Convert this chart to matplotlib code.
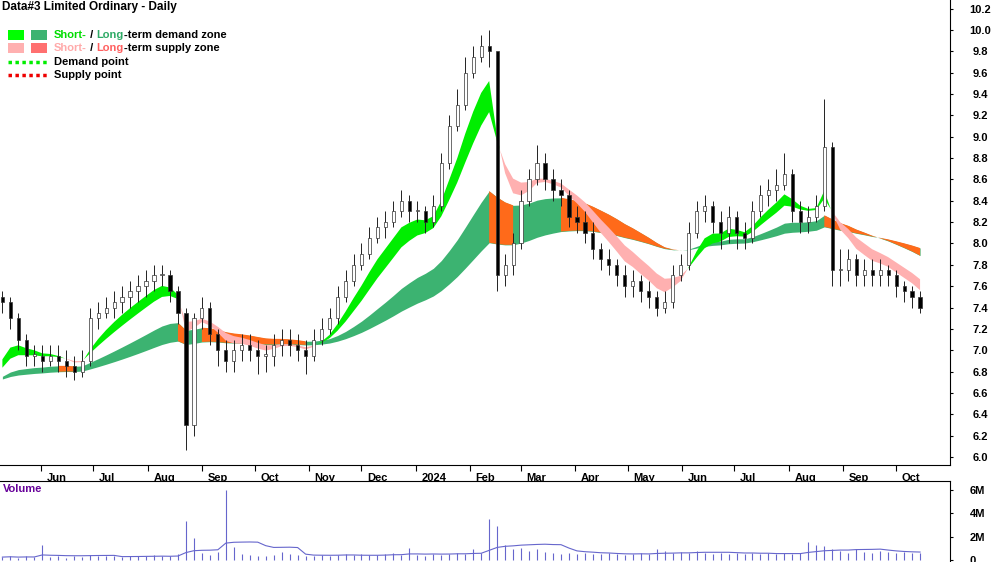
import numpy as np
import pandas as pd
import matplotlib
matplotlib.use("Agg")
import matplotlib.pyplot as plt
import matplotlib.transforms as mt
from matplotlib.patches import Rectangle

plt.rcParams["font.family"] = ["Liberation Sans", "DejaVu Sans"]

closes = [7.45, 7.3, 7.1, 6.95, 6.95, 6.9, 6.95, 6.9, 6.85, 6.8, 6.9, 7.3, 7.35, 7.4, 7.45, 7.5,
          7.55, 7.6, 7.65, 7.7, 7.7, 7.55, 7.35, 6.3, 7.3, 7.4, 7.15, 7.0, 6.9, 7.0, 7.05, 7.0,
          6.95, 6.95, 7.05, 7.1, 7.05, 7.0, 6.95, 7.1, 7.2, 7.3, 7.5, 7.65, 7.8, 7.9, 8.05, 8.15,
          8.2, 8.3, 8.4, 8.3, 8.3, 8.2, 8.35, 8.75, 9.1, 9.3, 9.6, 9.75, 9.85, 9.8, 7.7, 7.8,
          8.0, 8.4, 8.6, 8.75, 8.6, 8.5, 8.45, 8.25, 8.2, 8.1, 7.95, 7.85, 7.8, 7.7, 7.6, 7.65,
          7.55, 7.5, 7.4, 7.45, 7.7, 7.8, 8.1, 8.3, 8.35, 8.2, 8.1, 8.25, 8.1, 8.05, 8.3, 8.45,
          8.5, 8.55, 8.65, 8.3, 8.2, 8.25, 8.35, 8.9, 7.75, 7.75, 7.85, 7.7, 7.75, 7.7, 7.75, 7.7,
          7.6, 7.55, 7.5, 7.4]
highs = [7.55, 7.5, 7.35, 7.15, 7.05, 7.05, 7.05, 7.05, 7.0, 6.95, 7.0, 7.4, 7.45, 7.5, 7.55, 7.6,
         7.65, 7.7, 7.75, 7.8, 7.8, 7.75, 7.6, 7.4, 7.35, 7.5, 7.45, 7.2, 7.1, 7.1, 7.15, 7.15,
         7.1, 7.05, 7.15, 7.2, 7.2, 7.15, 7.1, 7.2, 7.3, 7.4, 7.6, 7.75, 7.9, 8.0, 8.15, 8.25,
         8.3, 8.4, 8.5, 8.45, 8.4, 8.35, 8.45, 8.85, 9.2, 9.45, 9.75, 9.85, 9.95, 10.0, 9.65, 7.9,
         8.1, 8.5, 8.7, 8.92, 8.85, 8.7, 8.6, 8.5, 8.35, 8.3, 8.2, 8.0, 7.95, 7.85, 7.8, 7.75,
         7.7, 7.65, 7.55, 7.55, 7.8, 7.9, 8.2, 8.4, 8.45, 8.4, 8.3, 8.35, 8.3, 8.2, 8.4, 8.55,
         8.6, 8.7, 8.85, 8.7, 8.4, 8.35, 8.45, 9.35, 8.95, 7.95, 7.95, 7.9, 7.85, 7.85, 7.85, 7.8,
         7.75, 7.65, 7.6, 7.55]
lows = [7.35, 7.2, 7.0, 6.85, 6.85, 6.8, 6.85, 6.8, 6.75, 6.72, 6.75, 6.85, 7.2, 7.3, 7.3, 7.35,
        7.4, 7.45, 7.5, 7.55, 7.6, 7.45, 7.25, 6.07, 6.2, 7.2, 7.05, 6.85, 6.8, 6.8, 6.9, 6.9,
        6.78, 6.8, 6.85, 6.95, 6.95, 6.9, 6.78, 6.9, 7.05, 7.15, 7.25, 7.45, 7.6, 7.75, 7.85, 8.0,
        8.05, 8.15, 8.25, 8.2, 8.2, 8.1, 8.15, 8.3, 8.7, 9.05, 9.25, 9.55, 9.7, 9.65, 7.55, 7.6,
        7.7, 7.95, 8.35, 8.55, 8.5, 8.4, 8.35, 8.15, 8.1, 8.0, 7.85, 7.75, 7.7, 7.6, 7.5, 7.5,
        7.45, 7.4, 7.32, 7.35, 7.4, 7.65, 7.75, 8.05, 8.2, 8.1, 7.95, 8.0, 7.95, 7.95, 8.0, 8.25,
        8.35, 8.4, 8.5, 8.2, 8.1, 8.1, 8.2, 8.3, 7.6, 7.6, 7.65, 7.6, 7.6, 7.6, 7.6, 7.6,
        7.5, 7.45, 7.4, 7.35]
volumes = [0.25, 0.3, 0.2, 0.3, 0.25, 1.3, 0.25, 0.3, 0.2, 0.3, 0.25, 0.4, 0.3, 0.35, 0.3, 0.25,
           0.3, 0.35, 0.3, 0.4, 0.35, 0.3, 0.5, 3.3, 1.9, 0.6, 0.4, 0.7, 6.0, 1.1, 0.5, 0.4,
           0.35, 0.3, 0.4, 0.7, 0.5, 0.4, 0.35, 0.3, 0.4, 0.35, 0.4, 0.5, 0.4, 0.5, 0.45, 0.4,
           0.5, 0.6, 0.45, 1.0, 0.4, 0.35, 0.5, 0.4, 0.5, 0.6, 0.5, 0.9, 0.6, 3.5, 2.9, 1.3,
           0.9, 1.0, 0.8, 0.9, 0.7, 0.6, 0.5, 0.6, 0.5, 0.6, 0.5, 0.5, 0.6, 0.5, 0.4, 0.5,
           0.6, 0.5, 0.9, 0.8, 0.6, 0.7, 0.6, 0.8, 0.6, 0.5, 0.6, 0.5, 0.6, 0.5, 0.6, 0.5,
           0.6, 0.5, 0.6, 0.5, 0.6, 1.5, 1.3, 1.2, 0.9, 0.8, 0.6, 0.9, 0.7, 0.6, 0.8, 0.7,
           0.6, 0.7, 0.6, 0.6]
prior_level = [6.7] * 40  # level before the chart window, seeds the averages
start_date, end_date = "2023-05-10", "2024-10-15"
price_ticks = np.round(np.arange(6.0, 10.21, 0.2), 1)
vol_ticks = [0, 2, 4, 6]
vol_labels = ["0", "2M", "4M", "6M"]

c = np.array(closes)
o = np.r_[7.5, c[:-1]]
n = len(c)
x = np.arange(n)
dates = pd.date_range(start_date, end_date, periods=n)

k = len(prior_level)
s = pd.Series(np.r_[prior_level, c])
st_fast = s.ewm(span=6, adjust=False).mean().values[k:]
st_slow = s.ewm(span=10, adjust=False).mean().values[k:]
lt_fast = s.ewm(span=26, adjust=False).mean().values[k:]
lt_slow = s.ewm(span=48, adjust=False).mean().values[k:]

fig = plt.figure(figsize=(10, 5.62), dpi=100)
ax = fig.add_axes([0, 1 - 465 / 562, 0.95, 465 / 562])
axv = fig.add_axes([0, 0, 0.95, 81 / 562])

# long-term band: green while rising, orange while falling
down = np.r_[False, np.diff(lt_fast) < 0]
down_ext = down | np.r_[down[1:], False]
ax.fill_between(x, lt_fast, lt_slow, color="#3cb371", lw=0)
ax.fill_between(x, lt_fast, lt_slow, where=down_ext, color="#ff6a1a", lw=0)
# short-term band
up = st_fast >= st_slow
ax.fill_between(x, st_fast, st_slow, where=up, color="#00ee00", interpolate=True, lw=0)
ax.fill_between(x, st_fast, st_slow, where=~up, color="#ffb0b0", interpolate=True, lw=0)

# candles
for i in range(n):
    ax.vlines(x[i], lows[i], highs[i], color="#222222", lw=0.7, zorder=3)
    bot, h = min(o[i], c[i]), max(abs(c[i] - o[i]), 0.01)
    fc = "white" if c[i] >= o[i] else "black"
    ax.add_patch(Rectangle((x[i] - 0.2, bot), 0.4, h, facecolor=fc,
                           edgecolor="#333333", lw=0.5, zorder=4))

ax.set_xlim(-0.3, 118.75)
ax.set_ylim(5.925, 10.28)
ax.yaxis.tick_right()
ax.set_yticks(price_ticks)
ax.set_yticklabels([f"{v:.1f}" for v in price_ticks], fontsize=8, fontweight="bold")
for sp in ["left", "top"]:
    ax.spines[sp].set_visible(False)

# month ticks
months = pd.date_range("2023-06-01", "2024-10-01", freq="MS")
mpos = np.interp(months.astype("int64"), dates.astype("int64"), x)
mlab = ["2024" if m.month == 1 else m.strftime("%b") for m in months]
ax.set_xticks(mpos)
ax.set_xticklabels(mlab, fontsize=8, fontweight="bold", ha="left")
ax.tick_params(axis="x", length=4, pad=2)
ax.tick_params(axis="y", length=2, pad=20)
for lab in ax.get_yticklabels():
    lab.set_horizontalalignment("center")
off = mt.ScaledTranslation(4 / 72, 0, fig.dpi_scale_trans)
for lab in ax.get_xticklabels():
    lab.set_transform(lab.get_transform() + off)

# volume
vs = pd.Series(volumes)
axv.vlines(x, 0, vs, color="#6666cc", lw=0.8)
axv.plot(x, vs.rolling(10, min_periods=1).mean(), color="#6666cc", lw=0.8)
axv.set_xlim(-0.3, 118.75)
axv.set_ylim(-0.17, 6.75)
axv.yaxis.tick_right()
axv.set_yticks(vol_ticks)
axv.set_yticklabels(vol_labels, fontsize=8, fontweight="bold")
axv.tick_params(axis="y", length=2, pad=12)
axv.set_xticks([])
for sp in ["left", "bottom"]:
    axv.spines[sp].set_visible(False)
axv.text(0.003, 0.9, "Volume", transform=axv.transAxes, color="#660099",
         fontsize=8, fontweight="bold", va="center")

# title and legend
fig.text(0.002, 0.987, "Data#3 Limited Ordinary - Daily", fontsize=8.5,
         fontweight="bold", va="center")
W, H = 1000, 562


def box(px, py, col):
    fig.patches.append(Rectangle((px / W, 1 - (py + 10) / H), 16 / W, 10 / H,
                                 facecolor=col, transform=fig.transFigure))


box(8, 30, "#00ff00"); box(31, 30, "#3cb371")
box(8, 43, "#ffb0b0"); box(31, 43, "#ff7070")
for py, col in [(62, "#00ee00"), (75, "#ee0000")]:
    fig.lines.append(plt.Line2D([8 / W, 47 / W], [1 - py / H] * 2, color=col, lw=2.5,
                                ls=(0, (1, 1)), transform=fig.transFigure))
r = fig.canvas.get_renderer()


def words(py, parts):
    xx = 54 / W
    for txt, col in parts:
        tt = fig.text(xx, 1 - py / H, txt, color=col, fontsize=8, fontweight="bold", va="center")
        xx += tt.get_window_extent(renderer=r).width / W


words(35, [("Short-", "#00dd00"), (" / ", "black"), ("Long", "#2eaa66"), ("-term demand zone", "black")])
words(48, [("Short-", "#ffaaaa"), (" / ", "black"), ("Long", "#ff6060"), ("-term supply zone", "black")])
words(62, [("Demand point", "black")])
words(75, [("Supply point", "black")])

fig.savefig("out.png", dpi=100)
